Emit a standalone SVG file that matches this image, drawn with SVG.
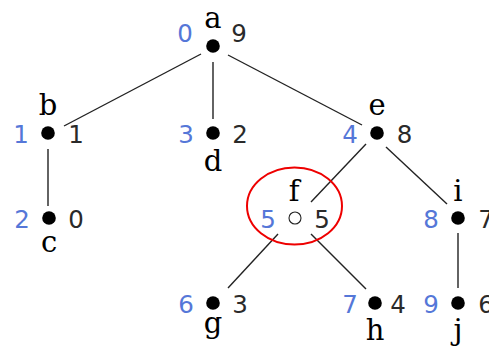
<svg xmlns="http://www.w3.org/2000/svg" width="489" height="349" viewBox="0 0 489 349">
<style>
.lt{font-family:"DejaVu Serif","Liberation Serif",serif;font-size:29px;fill:#000;text-anchor:middle}
.nb{font-family:"DejaVu Sans",sans-serif;font-size:24.5px;fill:#2a2a2a;text-anchor:middle}
.nl{font-family:"DejaVu Sans",sans-serif;font-size:24.5px;fill:#5577d8;text-anchor:middle}
.dot{fill:#000}
.edge{stroke:#222;stroke-width:1.4;fill:none}
</style>
<rect width="489" height="349" fill="#fff"/>
<g id="connectors">
<line class="edge" x1="201" y1="54" x2="64" y2="126"/>
<line class="edge" x1="213" y1="62" x2="213" y2="119"/>
<line class="edge" x1="228" y1="55" x2="362" y2="125"/>
<line class="edge" x1="48" y1="149" x2="48" y2="206"/>
<line class="edge" x1="366" y1="144" x2="311" y2="202"/>
<line class="edge" x1="386" y1="147" x2="447" y2="204"/>
<line class="edge" x1="278" y1="234" x2="228" y2="288"/>
<line class="edge" x1="311" y1="234" x2="366" y2="289"/>
<line class="edge" x1="458" y1="233" x2="458" y2="288"/>
</g>
<g id="node-a"><circle class="dot" cx="213" cy="46" r="6.8"/><text class="lt" x="213" y="28">a</text><text class="nl" x="185" y="42">0</text><text class="nb" x="239" y="42">9</text></g>
<g id="node-b"><circle class="dot" cx="48" cy="133" r="6.8"/><text class="lt" x="48" y="115">b</text><text class="nl" x="21" y="143">1</text><text class="nb" x="76" y="143">1</text></g>
<g id="node-d"><circle class="dot" cx="213" cy="133" r="6.8"/><text class="lt" x="213" y="171">d</text><text class="nl" x="186" y="143">3</text><text class="nb" x="240" y="143">2</text></g>
<g id="node-e"><circle class="dot" cx="377" cy="133" r="6.8"/><text class="lt" x="377" y="115">e</text><text class="nl" x="350" y="143">4</text><text class="nb" x="404.5" y="143">8</text></g>
<g id="node-c"><circle class="dot" cx="49" cy="218" r="6.8"/><text class="lt" x="49" y="252">c</text><text class="nl" x="22" y="228">2</text><text class="nb" x="76" y="228">0</text></g>
<g id="node-f"><ellipse cx="294.5" cy="206" rx="47.5" ry="38.5" fill="none" stroke="#e00" stroke-width="2"/><circle cx="295" cy="218" r="6" fill="none" stroke="#222" stroke-width="1.1"/><text class="lt" x="294" y="201">f</text><text class="nl" x="268" y="228">5</text><text class="nb" x="322" y="228">5</text></g>
<g id="node-i"><circle class="dot" cx="458" cy="218" r="6.8"/><text class="lt" x="458" y="201">i</text><text class="nl" x="431" y="228">8</text><text class="nb" x="486" y="228">7</text></g>
<g id="node-g"><circle class="dot" cx="213" cy="303" r="6.8"/><text class="lt" x="213" y="333">g</text><text class="nl" x="186" y="313">6</text><text class="nb" x="240" y="313">3</text></g>
<g id="node-h"><circle class="dot" cx="375" cy="303" r="6.8"/><text class="lt" x="375" y="340">h</text><text class="nl" x="350" y="313">7</text><text class="nb" x="398" y="313">4</text></g>
<g id="node-j"><circle class="dot" cx="458" cy="303" r="6.8"/><text class="lt" x="458" y="340">j</text><text class="nl" x="431" y="313">9</text><text class="nb" x="486" y="313">6</text></g>
</svg>
